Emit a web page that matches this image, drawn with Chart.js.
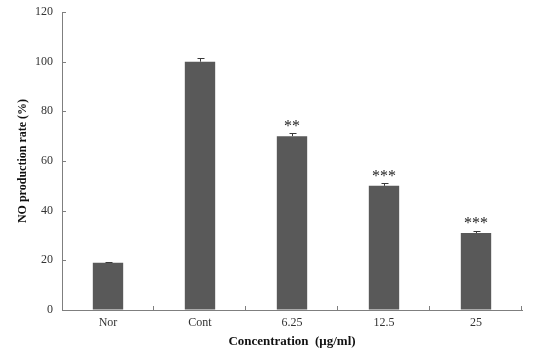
<!DOCTYPE html>
<html>
<head>
<meta charset="utf-8">
<script src="https://cdn.jsdelivr.net/npm/chart.js@4"></script>
<style>
  html, body { margin: 0; padding: 0; background: #fff; }
  #wrap { width: 534px; height: 359px; }
</style>
</head>
<body>
<div id="wrap"><canvas id="noChart" width="534" height="359"></canvas></div>
<script>
// --- chart data ---
const categories = ['Nor', 'Cont', '6.25', '12.5', '25'];
const noRate = [19, 100, 70, 50, 31];
const errors = [0.4, 1.6, 1.1, 1.0, 1.0];
const marks = ['', '', '**', '***', '***'];
const yTicks = [0, 20, 40, 60, 80, 100, 120];

const serif = '"Liberation Serif", "Times New Roman", serif';
const axisColor = '#7f7f7f';

// error bars, significance marks and the small inward ticks
const extrasPlugin = {
    id: 'extras',
    afterDatasetsDraw(chart) {
        const ctx = chart.ctx;
        const x = chart.scales.x;
        const y = chart.scales.y;
        const area = chart.chartArea;
        ctx.save();

        // inward tick marks
        ctx.strokeStyle = axisColor;
        ctx.lineWidth = 1;
        ctx.beginPath();
        yTicks.forEach(v => {
            const py = Math.round(y.getPixelForValue(v)) + 0.5;
            ctx.moveTo(area.left, py);
            ctx.lineTo(area.left + 4, py);
        });
        for (let i = 1; i <= categories.length; i++) {
            const px = Math.round(area.left + (area.right - area.left) * i / categories.length) - 0.5;
            ctx.moveTo(px, area.bottom);
            ctx.lineTo(px, area.bottom - 4);
        }
        ctx.stroke();

        // error bars
        ctx.strokeStyle = '#3a3a3a';
        ctx.beginPath();
        noRate.forEach((v, i) => {
            const px = Math.round(x.getPixelForValue(i)) + 0.5;
            const top = Math.round(y.getPixelForValue(v + errors[i])) + 0.5;
            const base = y.getPixelForValue(v);
            ctx.moveTo(px, base);
            ctx.lineTo(px, top);
            ctx.moveTo(px - 3, top);
            ctx.lineTo(px + 4, top);
        });
        ctx.stroke();

        // significance marks
        ctx.fillStyle = '#222';
        ctx.font = '16px ' + serif;
        ctx.textAlign = 'center';
        ctx.textBaseline = 'alphabetic';
        marks.forEach((m, i) => {
            if (!m) return;
            const px = x.getPixelForValue(i);
            const top = y.getPixelForValue(noRate[i] + errors[i]);
            ctx.fillText(m, px, top - 2.5);
        });
        ctx.restore();
    }
};

const chart = new Chart(document.getElementById('noChart'), {
    type: 'bar',
    data: {
        labels: categories,
        datasets: [{
            data: noRate,
            backgroundColor: '#595959',
            borderWidth: 0,
            barPercentage: 0.33,
            categoryPercentage: 1.0
        }]
    },
    options: {
        responsive: false,
        animation: false,
        layout: { padding: { top: 12, right: 12, left: 0, bottom: 0 } },
        plugins: { legend: { display: false }, tooltip: { enabled: false } },
        scales: {
            x: {
                grid: { display: true, drawOnChartArea: false, drawTicks: false, color: axisColor },
                border: { color: axisColor, width: 1 },
                ticks: { color: '#333', font: { family: serif, size: 12 }, padding: 6 },
                title: {
                    display: true,
                    text: 'Concentration  (μg/ml)',
                    color: '#111',
                    font: { family: serif, size: 13, weight: 'bold' },
                    padding: { top: 2, bottom: 10 }
                },
                afterFit(scale) { scale.height = 49; }
            },
            y: {
                min: 0,
                max: 120,
                grid: { display: true, drawOnChartArea: false, drawTicks: false, color: axisColor },
                border: { color: axisColor, width: 1 },
                ticks: {
                    stepSize: 20,
                    color: '#333',
                    font: { family: serif, size: 12 },
                    padding: 9
                },
                title: {
                    display: true,
                    text: 'NO production rate (%)',
                    color: '#111',
                    font: { family: serif, size: 12, weight: 'bold' },
                    padding: { top: 16, bottom: 0 }
                },
                afterFit(scale) {
                    scale.width = 62;
                    scale.paddingTop = 0;
                    scale.paddingBottom = 0;
                }
            }
        }
    },
    plugins: [extrasPlugin]
});
</script>
</body>
</html>
